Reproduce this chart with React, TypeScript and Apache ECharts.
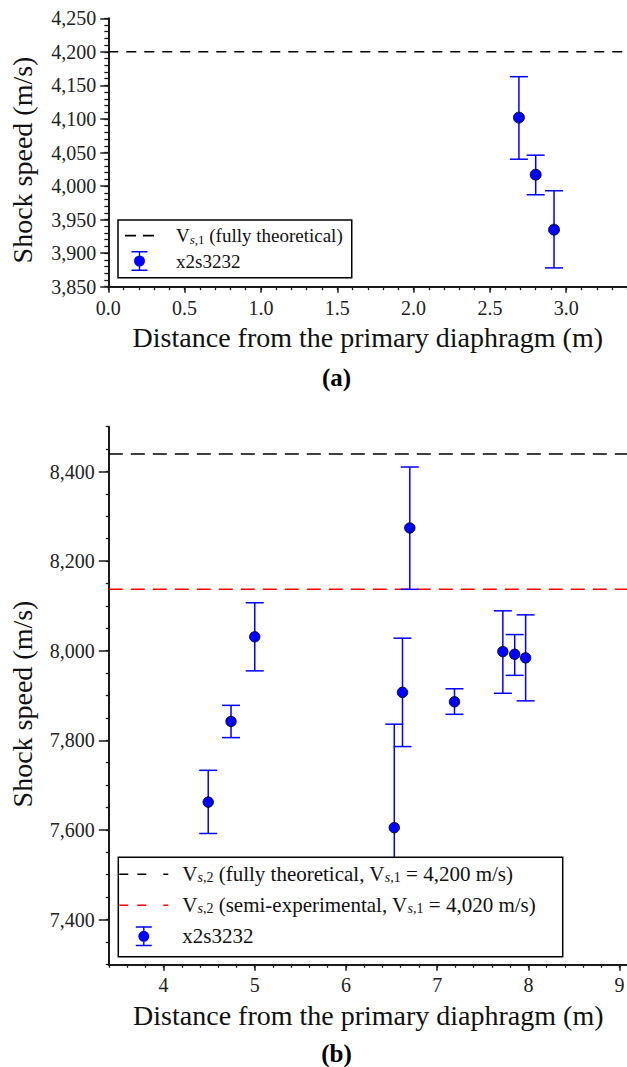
import React, { useEffect, useRef } from 'react';
import * as echarts from 'echarts';

const FONT = 'Liberation Serif, serif';
const INK = '#1a1a1a';
const BLUE = '#0000ff';

// ---------- panel (a) ----------
const distanceA = [2.69, 2.8, 2.92];
const speedA = [4102, 4017, 3935];
const speedUpperA = [4163, 4046, 3993];
const speedLowerA = [4040, 3987, 3878];
const theoreticalA = 4200;
const xRangeA = [0, 3.4];
const yRangeA = [3850, 4250];
const xLabelsA = [0, 0.5, 1, 1.5, 2, 2.5, 3];
const yLabelsA = [3850, 3900, 3950, 4000, 4050, 4100, 4150, 4200, 4250];

// ---------- panel (b) ----------
const distanceB = [4.49, 4.74, 5.0, 6.53, 6.62, 6.7, 7.19, 7.72, 7.85, 7.97];
const speedB = [7662, 7842, 8031, 7605, 7907, 8274, 7886, 7998, 7992, 7984];
const speedUpperB = [7733, 7878, 8107, 7836, 8028, 8410, 7915, 8089, 8036, 8080];
const speedLowerB = [7592, 7806, 7955, 7374, 7786, 8137, 7858, 7905, 7945, 7888];
const theoreticalB = 8439;
const semiExperimentalB = 8137;
const xRangeB = [3.4, 9.09];
const yRangeB = [7300, 8500];
const xLabelsB = [4, 5, 6, 7, 8, 9];
const yLabelsB = [7400, 7600, 7800, 8000, 8200, 8400];

const SAMPLE = 'x2s3232';
const X_TITLE = 'Distance from the primary diaphragm (m)';
const Y_TITLE = 'Shock speed (m/s)';

const LEGEND_TEXT: Record<string, string> = {
  'a-theory': '{g| }V{si|s}{sn|,1} (fully theoretical)',
  'a-sample': '{g| }' + SAMPLE,
  'b-theory': '{h| }V{si|s}{sn|,2} (fully theoretical, V{si|s}{sn|,1} = 4,200 m/s)',
  'b-semi': '{h| }V{si|s}{sn|,2} (semi-experimental, V{si|s}{sn|,1} = 4,020 m/s)',
  'b-sample': '{h| }' + SAMPLE,
};

const MARKER_ICON =
  'path://M0,0H16V1.5H0Z M0,18.5H16V20H0Z M7.3,1.5H8.7V4.6H7.3Z M7.3,15.4H8.7V18.5H7.3Z M2.5,10A5.5,5.5 0 1 1 13.5,10A5.5,5.5 0 1 1 2.5,10Z';
const DASH_ICON_A = 'path://M0,0H10.5V1.6H0Z M17,0H27.5V1.6H17Z';
const DASH_ICON_B = 'path://M0,0H9V1.6H0Z M18,0H27V1.6H18Z M44,0H49V1.6H44Z';

const fmtThousands = (v: number) => Math.round(v).toLocaleString('en-US');

function errorBars(xIdx: number, yIdx: number, xs: number[], lo: number[], hi: number[]) {
  return {
    type: 'custom',
    xAxisIndex: xIdx,
    yAxisIndex: yIdx,
    silent: true,
    z: 2,
    data: xs.map((x, i) => [x, lo[i], hi[i]]),
    encode: { x: 0, y: [1, 2] },
    renderItem: (_params: any, api: any) => {
      const x = api.value(0);
      const top = api.coord([x, api.value(2)]);
      const bot = api.coord([x, api.value(1)]);
      const hw = 9;
      const style = { stroke: BLUE, lineWidth: 1.5, fill: 'none' };
      return {
        type: 'group',
        children: [
          { type: 'line', shape: { x1: top[0], y1: top[1], x2: bot[0], y2: bot[1] }, style },
          { type: 'line', shape: { x1: top[0] - hw, y1: top[1], x2: top[0] + hw, y2: top[1] }, style },
          { type: 'line', shape: { x1: bot[0] - hw, y1: bot[1], x2: bot[0] + hw, y2: bot[1] }, style },
        ],
      };
    },
  };
}

function minorAxis(grid: number, range: number[], interval: number, len: number, pos: string) {
  return {
    type: 'value',
    gridIndex: grid,
    position: pos,
    min: range[0],
    max: range[1],
    interval,
    axisLine: { show: false, onZero: false },
    axisTick: { show: true, length: len, lineStyle: { color: INK, width: 1.3 } },
    axisLabel: { show: false },
    splitLine: { show: false },
  };
}

function majorAxis(
  grid: number,
  range: number[],
  ticks: number[],
  len: number,
  pos: string,
  fmt: (v: number) => string,
  margin: number,
  name: string,
  nameGap: number,
  namePadding: number[],
) {
  return {
    type: 'value',
    gridIndex: grid,
    position: pos,
    min: range[0],
    max: range[1],
    axisLine: { show: true, onZero: false, lineStyle: { color: INK, width: 2 } },
    axisTick: { show: true, customValues: ticks, length: len, lineStyle: { color: INK, width: 1.5 } },
    axisLabel: {
      show: true,
      customValues: ticks,
      formatter: fmt,
      margin,
      fontSize: 20,
      fontFamily: FONT,
      color: '#222',
    },
    splitLine: { show: false },
    name,
    nameLocation: 'middle',
    nameGap,
    nameTextStyle: { fontSize: 28, fontFamily: FONT, color: '#111', padding: namePadding },
  };
}

function legendRich(size: number, gap: number) {
  const sub = Math.round(size * 0.68);
  return {
    g: { width: gap, fontSize: size, fontFamily: FONT },
    si: { fontSize: sub, fontStyle: 'italic', verticalAlign: 'bottom', fontFamily: FONT, color: '#111' },
    sn: { fontSize: sub, verticalAlign: 'bottom', fontFamily: FONT, color: '#111' },
    h: { width: gap, fontSize: size, fontFamily: FONT },
  };
}

export default function App() {
  const ref = useRef<HTMLDivElement>(null);

  useEffect(() => {
    if (!ref.current) return;
    const chart = echarts.init(ref.current, null, { renderer: 'svg' });

    const option: any = {
      animation: false,
      backgroundColor: '#fff',
      textStyle: { fontFamily: FONT },
      grid: [
        { left: 108.3, top: 18.3, width: 519, height: 268.4, outerBoundsMode: 'none', containLabel: false },
        { left: 108.8, top: 426.7, width: 519, height: 537.6, outerBoundsMode: 'none', containLabel: false },
      ],
      xAxis: [
        minorAxis(0, xRangeA, 0.1, 3.5, 'bottom'),
        majorAxis(0, xRangeA, xLabelsA, 6, 'bottom', (v) => v.toFixed(1), 11, X_TITLE, 37, [0, 0, 0, 0]),
        minorAxis(1, xRangeB, 0.2, 3.5, 'bottom'),
        majorAxis(1, xRangeB, xLabelsB, 6.5, 'bottom', (v) => String(Math.round(v)), 11, X_TITLE, 37, [0, 0, 0, 0]),
      ],
      yAxis: [
        minorAxis(0, yRangeA, 10, 4, 'left'),
        majorAxis(0, yRangeA, yLabelsA, 8, 'left', fmtThousands, 12, Y_TITLE, 72, [0, 15, 0, 0]),
        minorAxis(1, yRangeB, 50, 3, 'left'),
        majorAxis(1, yRangeB, yLabelsB, 10, 'left', fmtThousands, 14, Y_TITLE, 72, [0, 17, 0, 0]),
      ],
      legend: [
        {
          orient: 'vertical',
          left: 118,
          top: 220,
          padding: [5.7, 9, 6.7, 7],
          itemWidth: 29,
          itemHeight: 20,
          itemGap: 5.3,
          selectedMode: false,
          backgroundColor: '#fff',
          borderColor: '#000',
          borderWidth: 1.5,
          borderRadius: 0,
          formatter: (n: string) => LEGEND_TEXT[n] || n,
          textStyle: { fontSize: 19, lineHeight: 20, fontFamily: FONT, color: '#111', rich: legendRich(19, 17) },
          data: [
            { name: 'a-theory', icon: DASH_ICON_A, itemStyle: { color: '#000', borderWidth: 0 } },
            { name: 'a-sample', icon: MARKER_ICON, itemStyle: { color: BLUE, borderWidth: 0 } },
          ],
          z: 10,
        },
        {
          orient: 'vertical',
          left: 118.3,
          top: 857.3,
          padding: [6.5, 27, 10, 1],
          itemWidth: 49,
          itemHeight: 20,
          itemGap: 10,
          selectedMode: false,
          backgroundColor: '#fff',
          borderColor: '#000',
          borderWidth: 1.5,
          borderRadius: 0,
          formatter: (n: string) => LEGEND_TEXT[n] || n,
          textStyle: { fontSize: 21, lineHeight: 20, fontFamily: FONT, color: '#111', rich: legendRich(21, 9) },
          data: [
            { name: 'b-theory', icon: DASH_ICON_B, itemStyle: { color: '#000', borderWidth: 0 } },
            { name: 'b-semi', icon: DASH_ICON_B, itemStyle: { color: '#ff0000', borderWidth: 0 } },
            { name: 'b-sample', icon: MARKER_ICON, itemStyle: { color: BLUE, borderWidth: 0 } },
          ],
          z: 10,
        },
      ],
      graphic: [
        {
          type: 'text',
          x: 336.5,
          y: 377,
          style: { text: '(a)', fontSize: 25, fontWeight: 'bold', fontFamily: FONT, fill: '#000', align: 'center', verticalAlign: 'middle' },
        },
        {
          type: 'text',
          x: 336.5,
          y: 1053,
          style: { text: '(b)', fontSize: 25, fontWeight: 'bold', fontFamily: FONT, fill: '#000', align: 'center', verticalAlign: 'middle' },
        },
      ],
      series: [
        {
          type: 'line',
          name: 'a-theory',
          xAxisIndex: 1,
          yAxisIndex: 1,
          data: [
            [xRangeA[0], theoreticalA],
            [xRangeA[1], theoreticalA],
          ],
          symbol: 'none',
          silent: true,
          itemStyle: { color: '#000' },
          lineStyle: { color: '#000', width: 1.5, type: [10, 8] },
          z: 1,
        },
        errorBars(1, 1, distanceA, speedLowerA, speedUpperA),
        {
          type: 'scatter',
          name: 'a-sample',
          xAxisIndex: 1,
          yAxisIndex: 1,
          data: distanceA.map((d, i) => [d, speedA[i]]),
          symbol: 'circle',
          symbolSize: 11,
          itemStyle: { color: BLUE, borderColor: '#000', borderWidth: 0.8, opacity: 1 },
          z: 3,
        },
        {
          type: 'line',
          name: 'b-theory',
          xAxisIndex: 3,
          yAxisIndex: 3,
          data: [
            [xRangeB[0], theoreticalB],
            [xRangeB[1], theoreticalB],
          ],
          symbol: 'none',
          silent: true,
          itemStyle: { color: '#000' },
          lineStyle: { color: '#000', width: 1.5, type: [14, 8] },
          z: 1,
        },
        {
          type: 'line',
          name: 'b-semi',
          xAxisIndex: 3,
          yAxisIndex: 3,
          data: [
            [xRangeB[0], semiExperimentalB],
            [xRangeB[1], semiExperimentalB],
          ],
          symbol: 'none',
          silent: true,
          itemStyle: { color: '#ff0000' },
          lineStyle: { color: '#ff0000', width: 1.5, type: [14, 8] },
          z: 1,
        },
        errorBars(3, 3, distanceB, speedLowerB, speedUpperB),
        {
          type: 'scatter',
          name: 'b-sample',
          xAxisIndex: 3,
          yAxisIndex: 3,
          data: distanceB.map((d, i) => [d, speedB[i]]),
          symbol: 'circle',
          symbolSize: 10.5,
          itemStyle: { color: BLUE, borderColor: '#000', borderWidth: 0.8, opacity: 1 },
          z: 3,
        },
      ],
    };

    chart.setOption(option);
    return () => chart.dispose();
  }, []);

  return (
    <div
      ref={ref}
      style={{ position: 'absolute', left: 0, top: 0, width: 627, height: 1067, background: '#fff' }}
    />
  );
}
